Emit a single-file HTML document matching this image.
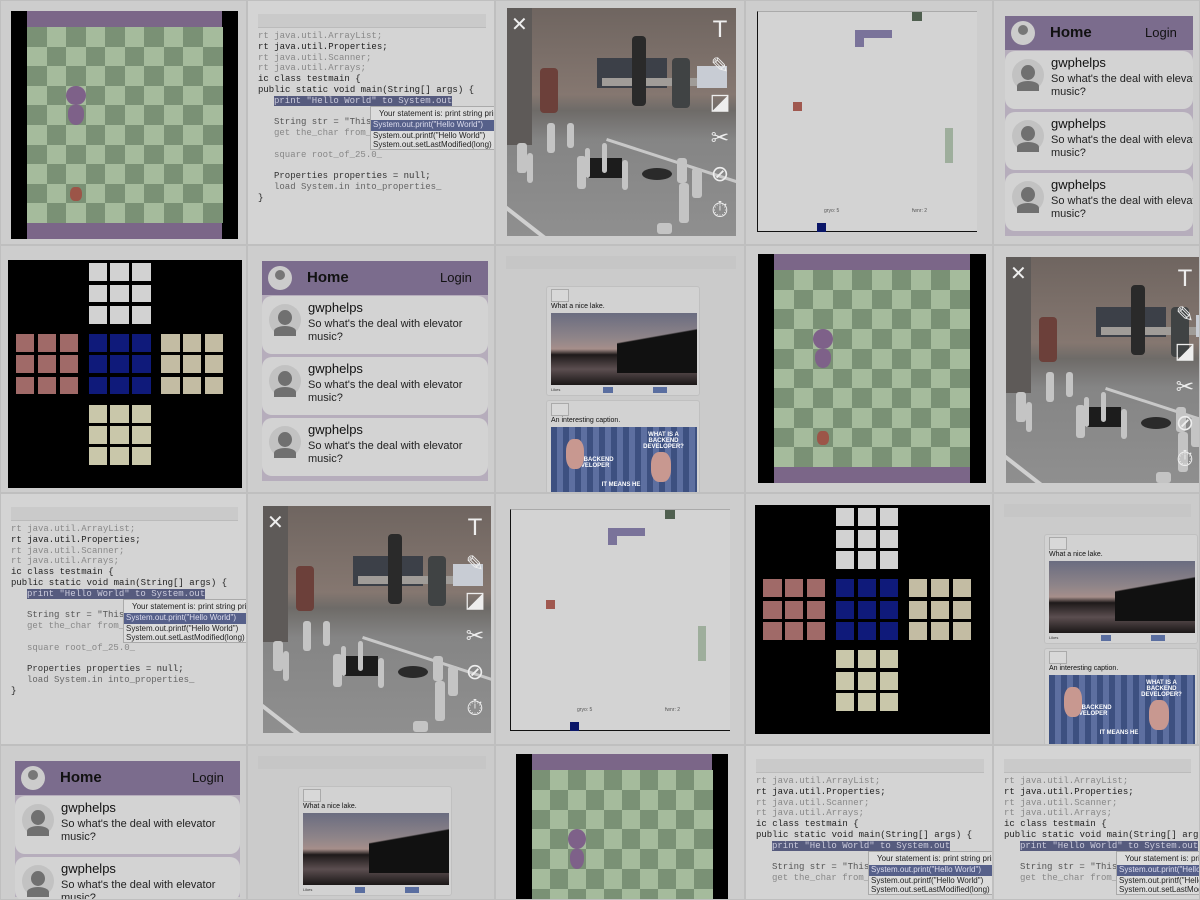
<!DOCTYPE html>
<html><head><meta charset="utf-8">
<style>
html,body{margin:0;padding:0;width:1200px;height:900px;overflow:hidden;background:#c9c9c9;font-family:"Liberation Sans",sans-serif}
.t{position:absolute;overflow:hidden;background:#cdcdcd;box-sizing:border-box;border:1px solid #bfbfbf}
.a{position:absolute;box-sizing:border-box}
.mono{font-family:"Liberation Mono",monospace;font-size:9px;white-space:nowrap;color:#222}
.txt{white-space:nowrap}
</style></head>
<body>
<div id="root"></div>
<script>
const root=document.getElementById('root');
function el(p,x,y,w,h,css,text){const d=document.createElement('div');d.className='a';d.style.left=x+'px';d.style.top=y+'px';if(w!=null)d.style.width=w+'px';if(h!=null)d.style.height=h+'px';if(css)d.style.cssText+=css;if(text!=null)d.textContent=text;p.appendChild(d);return d;}
function tile(x,y,w,h,name){const d=document.createElement('div');d.className='t';d.style.left=x+'px';d.style.top=y+'px';d.style.width=w+'px';d.style.height=h+'px';


root.appendChild(d);return d;}

function checker(x,y,w,h,bx,by,bw,bh){const t=tile(x,y,w,h,'snake-game-tile');
const blk=el(t,bx,by,bw,Math.min(bh,h-by),'background:#000');


const gx=bx+16,gw=bw-32,bar=16,gy=by+bar,gh=bh-2*bar,c=gw/10,r=gh/10;
const top=el(t,gx,by,gw,bar,'background:#7b6688');


if(gy+gh<h){const bot=el(t,gx,gy+gh,gw,bar,'background:#7b6688');

}
for(let i=0;i<10;i++)for(let j=0;j<10;j++){if(gy+i*r<h)el(t,gx+j*c,gy+i*r,c+0.5,Math.min(r+0.5,h-(gy+i*r)),'background:'+((i+j)%2?'#a5bb9c':'#7a9175'));}
const head=el(t,gx+2*c,gy+3*r,c,r,'background:#7e6189;border-radius:50%');


const sn=el(t,gx+2*c+2,gy+4*r,c-4,r,'background:#7e6189;border-radius:40% 40% 50% 50%');


if(gy+9*r<h){const ap=el(t,gx+2*c+4,gy+8*r+3,c-8,r-5,'background:#9c5548;border-radius:40%');

}
}

function code(x,y,w,h){const t=tile(x,y,w,h,'code-editor-tile');t.style.background='#d4d4d4';
const tab=el(t,10,13,w-20,14,'background:#cacaca;border-bottom:1px solid #bbb');


const lines=[['rt java.util.ArrayList;','#888',0],['rt java.util.Properties;','#222',0],['rt java.util.Scanner;','#888',0],['rt java.util.Arrays;','#888',0],['ic class testmain {','#222',0],['public static void main(String[] args)  {','#222',0],['print "Hello World" to System.out','#ccd',16],['',0,0],['String str = "This is a sentence"','#555',16],['get the_char from_str at_index 3','#888',16],['',0,0],['square root_of_25.0_','#888',16],['',0,0],['Properties properties = null;','#333',16],['load System.in into_properties_','#666',16],['}','#222',0]];
lines.forEach((l,i)=>{if(!l[0])return;if(30+i*10.8+10>h)return;const d=el(t,10+l[2],30+i*10.8,null,null,'color:'+l[1]+(i==6?';background:#565b7e':''),l[0]);d.classList.add('mono');

});
const pop=el(t,122,105,140,44,'background:#dcdcdc;border:1px solid #aaa;font-size:8px;color:#222');


el(pop,8,2,null,null,'',"Your statement is: print string printstream").classList.add('txt');
el(pop,0,13,140,11,'background:#56608a;color:#dde;padding-left:2px',"System.out.print(\"Hello World\")").classList.add('txt');
el(pop,2,24,null,null,'',"System.out.printf(\"Hello World\")").classList.add('txt');
el(pop,2,33,null,null,'',"System.out.setLastModified(long)").classList.add('txt');
}

function photo(x,y,w,h,px,py,pw,ph){const t=tile(x,y,w,h,'camera-photo-tile');
const p=el(t,px,py,pw,ph,'overflow:hidden;background:linear-gradient(180deg,#6f6560 0%,#857770 38%,#6e6b68 45%,#858585 58%,#8f8f8f 100%)');


el(p,0,0,25,ph*0.6,'background:#5e5a58');
el(p,90,50,70,30,'background:#3c4048');
el(p,95,70,110,8,'background:#a09c98');
el(p,125,28,14,70,'background:#2a2a2a;border-radius:4px');
el(p,165,50,18,50,'background:#404344;border-radius:4px');
el(p,33,60,18,45,'background:#6c403a;border-radius:4px');
el(p,190,58,30,22,'background:#c8ccd4');
el(p,100,130,pw,3,'background:#c8c8c8;transform:rotate(18deg);transform-origin:0 0');
el(p,-10,190,150,4,'background:#d0d0d0;transform:rotate(38deg);transform-origin:0 0');
el(p,75,150,40,20,'background:#1c1c1c');
el(p,135,160,30,12,'background:#2a2a2a;border-radius:50%');
[[10,135,10,30],[40,115,8,30],[60,115,7,25],[20,145,6,30],[70,148,9,33],[78,140,5,30],[95,135,5,30],[115,152,6,30],[170,150,10,25],[185,160,10,30],[172,175,10,40],[150,215,15,11]].forEach(q=>el(p,q[0],q[1],q[2],q[3],'background:#c4c4c4;border-radius:3px'));
const icons=['T','✎','◪','✂','⊘','⏱'];
icons.forEach((c,i)=>{const d=el(p,pw-28,10+i*36,24,28,'color:#eee;font-size:22px;text-align:center;font-family:\"DejaVu Sans\",sans-serif',c);

});
const x1=el(p,4,4,20,22,'color:#eee;font-size:20px','✕');


}

function pong(x,y,w,h,bx,by,bw,bh){const t=tile(x,y,w,h,'pong-game-tile');
const b=el(t,bx,by,bw,bh,'background:#d3d3d3;border-left:1px solid #111;border-bottom:1px solid #111;border-top:1px solid #aaa');


el(b,bw*0.44,18,bw*0.17,8,'background:#7a739a');el(b,bw*0.44,18,9,17,'background:#7a739a');
el(b,bw*0.7,0,10,9,'background:#4f5f4f');
const ball=el(b,35,90,9,9,'background:#a0584f');


const pd=el(b,bw*0.85,116,8,35,'background:#9eae9c');


el(b,bw*0.27,bh-10,9,9,'background:#0a1668');
el(b,bw*0.3,bh-25,null,null,'font-size:5px;color:#555','gryo: 5');el(b,bw*0.7,bh-25,null,null,'font-size:5px;color:#555','fwnr: 2');
}

function feed(x,y,w,h,ox,oy){const t=tile(x,y,w,h,'social-feed-tile');
const cw=w-ox-8;
el(t,ox,oy,cw,Math.min(220,h-oy-4),'background:#b6adbc');
const hd=el(t,ox,oy,cw,34,'background:#7b6c8d');


el(hd,6,5,24,24,'background:#ccc;border-radius:50%');
el(hd,13,9,10,10,'background:#777;border-radius:50%');
el(hd,45,8,null,null,'font-weight:bold;font-size:15px;color:#111','Home').classList.add('txt');
const lg=el(hd,cw-48,9,null,null,'font-size:13px;color:#111','Login');lg.classList.add('txt');


for(let i=0;i<3;i++){const cy=oy+35+i*61;if(cy>h)break;const c=el(t,ox,cy,cw,Math.min(58,h-cy),'background:#d3d3d3;border-radius:10px;overflow:hidden');


el(c,7,8,32,32,'background:#c2c2c2;border-radius:50%');el(c,16,14,14,15,'background:#707070;border-radius:50%');el(c,12,30,22,10,'background:#707070;border-radius:50% 50% 0 0');
el(c,46,4,null,null,'font-size:13px;color:#111','gwphelps').classList.add('txt');
el(c,46,22,null,null,'font-size:11px;color:#222;line-height:13px','So what\'s the deal with elevator').classList.add('txt');
el(c,46,35,null,null,'font-size:11px;color:#222','music?').classList.add('txt');}
}

function posts(x,y,w,h,ox,oy){const t=tile(x,y,w,h,'image-posts-tile');t.style.background='#cbcbcb';
el(t,10,10,w-20,13,'background:#c6c6c6');
const c1=el(t,ox,oy,154,110,'background:#d2d2d2;border:1px solid #c0c0c0;border-radius:3px');


el(c1,4,2,18,13,'border:1px solid #aaa;background:#d8d8d8');
el(c1,4,16,null,null,'font-size:7px;color:#111','What a nice lake.').classList.add('txt');
el(c1,4,26,146,72,'background:linear-gradient(180deg,#6a6c80 0%,#8f8589 35%,#a68e8a 50%,#1e1a1a 58%,#5b4e50 78%,#1b1717 100%)');
el(c1,70,26,80,60,'background:linear-gradient(170deg,transparent 40%,#111 42%)');
el(c1,4,100,null,null,'font-size:4px;color:#333','Likes');
const lb=el(c1,56,100,10,6,'background:#5a6ea0');
const db=el(c1,106,100,14,6,'background:#5a6ea0');
if(h>oy+200){const c2=el(t,ox,oy+114,154,Math.min(120,h-oy-114),'background:#d2d2d2;border:1px solid #c0c0c0;border-radius:3px;overflow:hidden');


el(c2,4,2,18,13,'border:1px solid #aaa;background:#d8d8d8');
el(c2,4,16,null,null,'font-size:7px;color:#111','An interesting caption.').classList.add('txt');
const m=el(c2,4,26,146,90,'background:repeating-linear-gradient(90deg,#3d5080 0 6px,#5d6fa0 6px 12px);color:#fff;font-weight:bold;font-size:6px;text-align:center;overflow:hidden');
el(m,85,5,55,null,'','WHAT IS A BACKEND DEVELOPER?');el(m,10,30,60,null,'','I\'M A BACKEND DEVELOPER');el(m,40,55,60,null,'','IT MEANS HE');
el(m,15,12,18,30,'background:#c89890;border-radius:40%');el(m,100,25,20,30,'background:#c89890;border-radius:40%');}
}

function grid(x,y,w,h,bx,by,bw,bh){const t=tile(x,y,w,h,'color-grid-tile');
const b=el(t,bx,by,bw,bh,'background:#000');


const blocks=[[1,0,'#d2d2d2'],[0,1,'#a06a68'],[1,1,'#0f1a7a'],[2,1,'#c3bca3'],[1,2,'#c9c7aa']];
const sx=bw*0.078,px=bw*0.093,bpx=bw*0.31,ox=bw*0.035;
const sy=bh*0.078,py=bh*0.093,bpy=bh*0.31,oy=bh*0.015;
blocks.forEach(q=>{for(let i=0;i<3;i++)for(let j=0;j<3;j++){el(b,ox+q[0]*bpx+j*px,oy+q[1]*bpy+i*py,sx,sy,'background:'+q[2]);}});
}

checker(0,0,247,245,10,10,227,228);
code(247,0,248,245);
photo(495,0,250,245,11,7,229,228);
pong(745,0,248,245,11,10,220,221);
feed(993,0,207,245,11,15);

grid(0,245,247,248,7,14,234,228);
feed(247,245,248,248,14,15);
posts(495,245,250,248,50,40);
checker(745,245,248,248,12,8,228,229);
photo(993,245,207,248,12,11,195,226);

code(0,493,247,252);
photo(247,493,248,252,15,12,228,227);
pong(495,493,250,252,14,15,220,222);
grid(745,493,248,252,9,11,235,229);
posts(993,493,207,252,50,40);

feed(0,745,247,155,14,15);
posts(247,745,248,155,50,40);
checker(495,745,250,155,20,8,212,230);
code(745,745,248,155);
code(993,745,207,155);
</script>
</body></html>
